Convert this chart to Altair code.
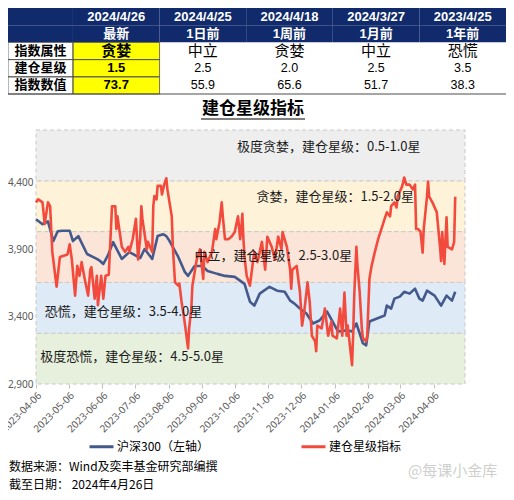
import altair as alt
import pandas as pd

CJK = "Noto Sans CJK SC"
LATIN = "Liberation Sans, Noto Sans CJK SC"
NAVY = "#102a6b"
YELLOW = "#ffff00"
LINE_NAVY = "#44598c"
LINE_RED = "#f24b3d"

# ---------------- summary table ----------------
col_dates = ["2024/4/26", "2024/4/25", "2024/4/18", "2024/3/27", "2023/4/25"]
col_tags = ["最新", "1日前", "1周前", "1月前", "1年前"]
row_names = ["指数属性", "建仓星级", "指数数值"]
attr_vals = ["贪婪", "中立", "贪婪", "中立", "恐慌"]
star_levels = ["1.5", "2.5", "2.0", "2.5", "3.5"]
index_vals = ["73.7", "55.9", "65.6", "51.7", "38.3"]

# ---------------- series (day offset from 2023-04-06) ----------------
START = "2023-04-06"
hs300_day = [0, 6, 11, 16, 20, 24, 31, 34, 39, 47,
             56, 59, 62, 66, 71, 79, 86, 96, 100, 107,
             112, 117, 120, 123, 131, 137, 140, 146, 153, 158,
             167, 174, 183, 192, 197, 201, 206, 215, 222, 229,
             234, 238, 243, 249, 255, 261, 268, 273, 278, 286,
             291, 295, 301, 304, 307, 321, 323, 327, 330, 335,
             339, 344, 349, 353, 356, 360, 367, 373, 378, 383,
             386]
hs300_val = [4125, 4088, 4110, 3963, 4036, 4040, 4040, 3963, 4000, 3867,
             3830, 3815, 3793, 3852, 3955, 3830, 3881, 3837, 3904, 3830,
             4000, 4014, 4000, 3963, 3845, 3734, 3704, 3778, 3778, 3741,
             3719, 3704, 3697, 3645, 3512, 3483, 3572, 3623, 3594, 3586,
             3520, 3498, 3461, 3424, 3350, 3372, 3439, 3365, 3291, 3299,
             3291, 3350, 3203, 3188, 3365, 3409, 3483, 3461, 3535, 3550,
             3586, 3572, 3609, 3535, 3520, 3594, 3557, 3483, 3557, 3520,
             3586]

star_day = [0, 2, 6, 8, 11, 13, 15, 19, 22, 29,
            31, 33, 36, 38, 40, 42, 45, 48, 50, 51,
            54, 56, 57, 60, 62, 64, 67, 70, 73, 74,
            75, 79, 82, 85, 86, 89, 92, 94, 96, 97,
            98, 102, 103, 107, 108, 109, 111, 112, 115, 116,
            118, 120, 121, 125, 126, 128, 131, 132, 134, 136,
            138, 140, 141, 143, 144, 148, 151, 154, 155, 158,
            162, 165, 166, 169, 171, 172, 174, 177, 180, 183,
            186, 188, 189, 190, 191, 192, 194, 197, 200, 201,
            204, 208, 211, 213, 217, 220, 223, 226, 227, 231,
            234, 235, 236, 240, 243, 245, 247, 250, 252, 254,
            257, 258, 259, 263, 266, 269, 272, 273, 277, 280,
            282, 284, 286, 287, 291, 292, 293, 295, 296, 298,
            300, 301, 304, 305, 307, 309, 312, 315, 318, 321,
            323, 326, 327, 330, 332, 333, 337, 338, 339, 341,
            344, 347, 349, 350, 352, 354, 356, 357, 360, 361,
            362, 365, 369, 372, 373, 374, 376, 378, 379, 383,
            385, 386]
star_val = [71.5, 72.7, 71.5, 63, 71.5, 70, 52, 38.3, 50, 51,
            55, 49, 34.8, 46.5, 42.6, 48, 41, 34.8, 45, 46,
            33.6, 42.6, 31, 42.6, 33.6, 42.6, 43, 70, 70, 61,
            66, 54, 52, 54, 52, 57, 65, 49, 58, 70,
            65, 53, 56, 52, 70, 74, 72.7, 78, 78, 74.6,
            78.5, 81, 76.6, 66, 54, 40, 38.7, 39.5, 32.4, 27,
            20.7, 14, 21.9, 29.7, 38.7, 49, 53, 41.4, 52, 48,
            52, 61, 57, 63.7, 71.5, 66, 57, 57, 58, 59.8,
            66, 57, 61, 67, 57, 50, 42.6, 38.7, 49, 52,
            48, 56, 45, 58, 54, 49, 58, 53, 59.8, 54,
            45, 37.5, 45, 46.5, 36.3, 23, 28.5, 40, 32.4, 19,
            16.8, 12.9, 23, 21.9, 29.7, 19, 24.6, 19, 18, 29.7,
            19, 36, 19, 23, 7.4, 19, 34.8, 54, 46.5, 36.3,
            21.9, 18, 16.8, 19, 41.4, 46.5, 52, 57, 61, 65,
            67.6, 66, 70, 71.5, 69.5, 73.8, 77.7, 79.3, 81.3, 78.5,
            78.5, 76.6, 78.5, 61, 61, 60, 51.7, 61, 73.8, 79.7,
            73.8, 71.5, 67.6, 54, 48.4, 59.8, 47.3, 65.6, 54, 53,
            55.9, 73.7]
assert len(hs300_day) == len(hs300_val)
assert len(star_day) == len(star_val)

legend_labels = ["沪深300（左轴）", "建仓星级指标"]

# ---------------- zones ----------------
band_lo = [0, 20, 40, 60, 80]
band_hi = [20, 40, 60, 80, 100]
band_names = ["极度恐慌", "恐慌", "中立", "贪婪", "极度贪婪"]
band_stars = ["4.5-5.0星", "3.5-4.0星", "2.5-3.0星", "1.5-2.0星", "0.5-1.0星"]
band_colors = ["#e6f0dc", "#deeaf6", "#fbe5d8", "#fef2d9", "#eeeeee"]
label_date = ["2023-04-10", "2023-04-14", "2023-08-30", "2023-10-26", "2023-10-08"]
label_val = [10.5, 28.5, 50.4, 73.8, 93.4]

x_domain = ["2023-04-06", "2024-05-05"]
x_ticks = ["2023-04-06", "2023-05-06", "2023-06-06", "2023-07-06", "2023-08-06",
           "2023-09-06", "2023-10-06", "2023-11-06", "2023-12-06", "2024-01-06",
           "2024-02-06", "2024-03-06", "2024-04-06"]
left_domain = [2900, 4789]
left_ticks = [2900, 3400, 3900, 4400]

chart_title = "建仓星级指标"
footer_lines = ["数据来源：Wind及奕丰基金研究部编撰", "截至日期：  2024年4月26日"]
watermark = "@每课小金库"


def dt(s):
    y, m, d = map(int, s.split("-"))
    return alt.DateTime(year=y, month=m, date=d)


start = pd.Timestamp(START)
hs_df = pd.DataFrame({
    "date": start + pd.to_timedelta(hs300_day, unit="D"),
    "val": hs300_val,
    "series": legend_labels[0],
})
st_df = pd.DataFrame({
    "date": start + pd.to_timedelta(star_day, unit="D"),
    "val": star_val,
    "series": legend_labels[1],
})
band_df = pd.DataFrame({
    "start": pd.to_datetime([x_domain[0]] * 5),
    "end": pd.to_datetime([x_domain[1]] * 5),
    "lo": band_lo, "hi": band_hi, "color": band_colors,
})
lab_df = pd.DataFrame({
    "date": pd.to_datetime(label_date),
    "val": label_val,
    "txt": [f"{n}，建仓星级：{s}" for n, s in zip(band_names, band_stars)],
})

xs = alt.Scale(domain=[dt(x_domain[0]), dt(x_domain[1])], nice=False)
ys_left = alt.Scale(domain=left_domain, nice=False, zero=False)
ys_right = alt.Scale(domain=[0, 100], nice=False, zero=False)
color_scale = alt.Scale(domain=legend_labels, range=[LINE_NAVY, LINE_RED])

x_axis = alt.Axis(values=[dt(s) for s in x_ticks], format="%Y-%m-%d", labelAngle=-45,
                  labelFontSize=10, labelColor="#595959", labelFont="Noto Sans",
                  domain=False, ticks=True, tickColor="#bfbfbf", tickSize=4,
                  grid=False, title=None, labelPadding=2, labelOverlap=False)
y_axis = alt.Axis(values=left_ticks, format=",.0f", labelFontSize=10, labelColor="#595959",
                  labelFont="Noto Sans", domain=False, ticks=False, grid=False,
                  title=None, labelPadding=3)
legend = alt.Legend(orient="none", legendX=52, legendY=303, direction="horizontal",
                    title=None, symbolType="stroke", symbolStrokeWidth=3, symbolSize=576,
                    labelFont=CJK, labelFontSize=12, labelColor="#000000",
                    columnPadding=86, labelOffset=2)

bands = alt.Chart(band_df).mark_rect(stroke="#c8c8c8", strokeDash=[4, 3], strokeWidth=1).encode(
    x=alt.X("start:T", scale=xs, axis=None), x2="end:T",
    y=alt.Y("lo:Q", scale=ys_right, axis=None), y2="hi:Q",
    fill=alt.Fill("color:N", scale=None),
)
navy = alt.Chart(hs_df).mark_line(strokeWidth=2.6, strokeJoin="round").encode(
    x=alt.X("date:T", scale=xs, axis=x_axis),
    y=alt.Y("val:Q", scale=ys_left, axis=y_axis),
    color=alt.Color("series:N", scale=color_scale, legend=legend),
)
red = alt.Chart(st_df).mark_line(strokeWidth=2.6, strokeJoin="round").encode(
    x=alt.X("date:T", scale=xs, axis=None),
    y=alt.Y("val:Q", scale=ys_right, axis=None),
    color=alt.Color("series:N", scale=color_scale, legend=legend),
)
labels = alt.Chart(lab_df).mark_text(align="left", baseline="middle", fontSize=13,
                                     font=CJK, color="#1a1a1a").encode(
    x=alt.X("date:T", scale=xs, axis=None),
    y=alt.Y("val:Q", scale=ys_right, axis=None),
    text="txt:N",
)

# ---------------- table ----------------
rows_content = [col_dates, col_tags, attr_vals, star_levels, index_vals]
cells = []
for r in range(5):
    for c in range(-1, 5):
        x0 = -0.75 if c < 0 else c
        x1 = 0 if c < 0 else c + 1
        header = r < 2
        if c < 0:
            txt = row_names[r - 2] if r >= 2 else ""
        else:
            txt = rows_content[r][c]
        fill = NAVY if header else (YELLOW if c == 0 else "#ffffff")
        if header:
            kind = "head"
            fs = 13
        elif c <= 0:
            kind = "bold"
            fs = 15 if (r == 2 and c == 0) else 13
        else:
            kind = "plain"
            fs = 15 if r == 2 else 12.5
        cells.append(dict(x0=x0, x1=x1, xm=(x0 + x1) / 2, r0=r, r1=r + 1, rm=r + 0.5,
                          txt=txt, fill=fill, kind=kind, fs=fs,
                          border=(not header and c <= 0)))
cell_df = pd.DataFrame(cells)

tx = alt.Scale(domain=[-0.75, 5], range=[-28, 470], nice=False, zero=False)
ty = alt.Scale(domain=[0, 5], range=[-122, -36], nice=False, zero=False)

tbase = alt.Chart(cell_df)
t_fill = tbase.mark_rect().encode(
    x=alt.X("x0:Q", scale=tx, axis=None), x2="x1:Q",
    y=alt.Y("r0:Q", scale=ty, axis=None), y2="r1:Q",
    fill=alt.Fill("fill:N", scale=None),
)
t_border = tbase.mark_rect(fill="transparent", stroke="#4d4d4d", strokeWidth=0.8).encode(
    x=alt.X("x0:Q", scale=tx, axis=None), x2="x1:Q",
    y=alt.Y("r0:Q", scale=ty, axis=None), y2="r1:Q",
).transform_filter("datum.border")
t_bottom = alt.Chart(pd.DataFrame({"a": [-0.75], "b": [5], "r": [5]})).mark_rule(
    color="#4d4d4d", strokeWidth=1).encode(
    x=alt.X("a:Q", scale=tx, axis=None), x2="b:Q",
    y=alt.Y("r:Q", scale=ty, axis=None),
)


def tlayer(kind, color, weight):
    return tbase.mark_text(baseline="middle", align="center", font=LATIN,
                           fontWeight=weight, color=color).encode(
        x=alt.X("xm:Q", scale=tx, axis=None),
        y=alt.Y("rm:Q", scale=ty, axis=None),
        text="txt:N",
        size=alt.Size("fs:Q", scale=None),
    ).transform_filter(f"datum.kind == '{kind}'")


t_head = tlayer("head", "#ffffff", "bold")
t_bold = tlayer("bold", "#000000", "bold")
t_plain = tlayer("plain", "#000000", "normal")

# ---------------- title, footer, watermark ----------------
title = alt.Chart(pd.DataFrame({"t": [chart_title]})).mark_text(
    fontSize=17, fontWeight="bold", font=CJK, color="#000000", baseline="middle").encode(
    x=alt.value(217), y=alt.value(-21), text="t:N")
underline = alt.Chart(pd.DataFrame({"t": [chart_title]})).mark_rule(
    color="#000000", strokeWidth=1.2).encode(
    x=alt.value(165), x2=alt.value(269), y=alt.value(-11))
foot1 = alt.Chart(pd.DataFrame({"t": [footer_lines[0]]})).mark_text(
    align="left", baseline="middle", fontSize=12, font=CJK, color="#000000").encode(
    x=alt.value(-27), y=alt.value(337), text="t:N")
foot2 = alt.Chart(pd.DataFrame({"t": [footer_lines[1]]})).mark_text(
    align="left", baseline="middle", fontSize=12, font=CJK, color="#000000").encode(
    x=alt.value(-27), y=alt.value(355), text="t:N")
wm = alt.Chart(pd.DataFrame({"t": [watermark]})).mark_text(
    align="left", baseline="middle", fontSize=15, font=CJK, color="#cfcfcf").encode(
    x=alt.value(372), y=alt.value(341), text="t:N")

chart = alt.layer(
    bands, navy, red, labels,
    t_fill, t_border, t_bottom, t_head, t_bold, t_plain,
    title, underline, foot1, foot2, wm,
).resolve_scale(
    x="independent", y="independent"
).properties(
    width=429, height=254,
    padding={"left": 28, "top": 122, "right": 41, "bottom": 108},
    autosize=alt.AutoSizeParams(type="none"),
).configure_view(stroke=None)

chart.save("out.html", embed_options={"renderer": "svg", "actions": False})
